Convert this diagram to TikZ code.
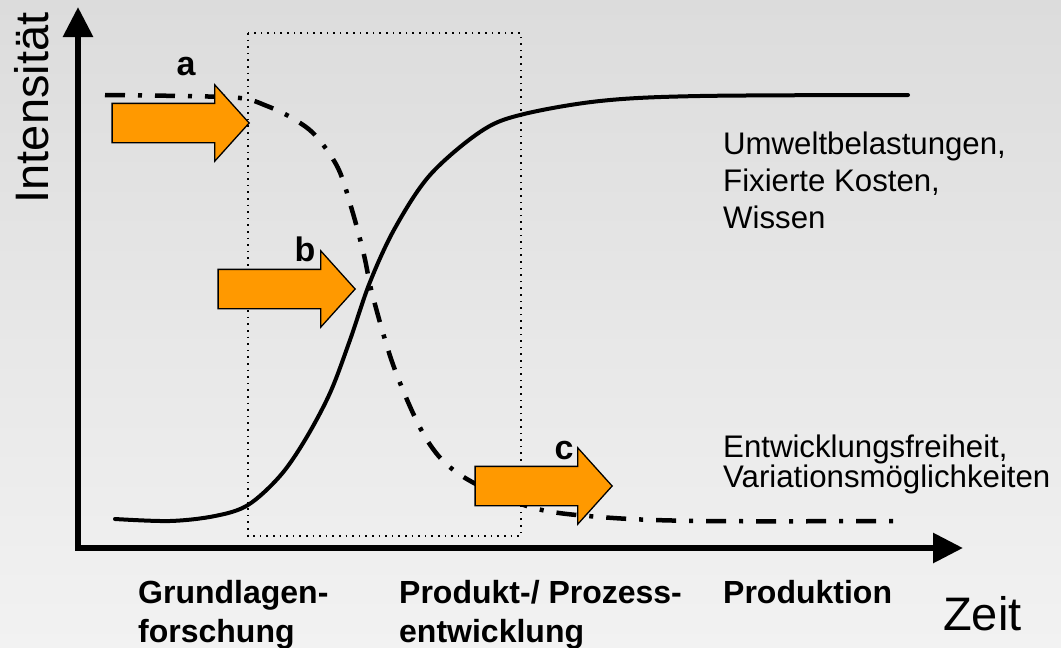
\documentclass[tikz,border=0pt]{standalone}
\usepackage{fontspec}
\setmainfont{Liberation Sans}
\usetikzlibrary{arrows.meta,shapes.arrows}
\definecolor{ink}{HTML}{000000}
\definecolor{pushfill}{HTML}{FF9900}
\definecolor{bgtop}{HTML}{DCDCDC}
\definecolor{bgbot}{HTML}{F2F2F2}
\tikzset{
  axis/.style={line width=6pt, line join=miter, draw=ink,
              {Triangle[length=30pt,width=29pt]}-{Triangle[length=30pt,width=29pt]}},
  rising/.style={line width=4pt, draw=ink, line cap=round},
  falling/.style={line width=4.5pt, draw=ink, dash pattern=on 20pt off 13pt on 4pt off 13pt},
  phase/.style={line width=1.6pt, draw=ink, dash pattern=on 1.6pt off 5pt},
  push/.style={single arrow, draw=ink, fill=pushfill, line width=1.3pt,
              inner sep=0pt, inner ysep=19pt, minimum height=137pt,
              single arrow head extend=18.5pt, single arrow tip angle=96, anchor=tip},
  tag/.style={font=\fontsize{34}{40}\selectfont\bfseries, inner sep=0pt, anchor=base},
  phasetxt/.style={font=\fontsize{32}{39}\selectfont\bfseries, align=left,
              inner sep=0pt, anchor=base west},
  curvetxt/.style={font=\fontsize{31.2}{37}\selectfont, align=left,
              inner sep=0pt, anchor=base west},
  axtxt/.style={font=\fontsize{47}{50}\selectfont, inner sep=0pt},
}

\begin{document}
\begin{tikzpicture}[x=1pt, y=-1pt]

% --- background ---------------------------------------------------------
\fill[top color=bgtop, bottom color=bgbot] (0,0) rectangle (1061,648);
\useasboundingbox (0,0) rectangle (1061,648);

% --- axes ---------------------------------------------------------------
\coordinate (ytip) at (78,7);
\coordinate (xtip) at (963,548);
\draw[axis] (ytip) |- (xtip);
\node[axtxt, rotate=90, anchor=base] (ylab) at (48,108) {Intensität};
\node[axtxt, anchor=base west] (xlab) at (943,630) {Zeit};

% --- development phase --------------------------------------------------
\draw[phase] (248,33) rectangle (521,536);

% --- curves -------------------------------------------------------------
\draw[rising] plot[smooth, tension=0.55] coordinates {
  (115,519) (170,521) (215,516) (248,505) (280,476) (305,440) (330,393)
  (350,340) (370,282) (395,228) (430,175) (480,132) (520,115) (600,101)
  (700,96) (908,95)};
\draw[falling] plot[smooth, tension=0.55] coordinates {
  (105,95) (180,96) (240,98) (267,106) (292,118) (315,135) (338,168)
  (352,210) (364,255) (373,297) (395,370) (427,440) (462,476) (530,507)
  (600,517) (700,521) (900,521)};

% --- pushes a, b, c -----------------------------------------------------
\node[push] (pa) at (250,123) {};
\node[tag] (la) at (186,75) {a};
\node[push] (pb) at (356,289) {};
\node[tag] (lb) at (305,261) {b};
\node[push] (pc) at (613,486) {};
\node[tag] (lc) at (564,459) {c};

% --- curve labels (anchored on the last line) ---------------------------
\node[curvetxt] (upper) at (723,228)
  {Umweltbelastungen,\\Fixierte Kosten,\\Wissen};
\node[curvetxt, font=\fontsize{31.2}{30}\selectfont] (lower) at (723,487)
  {Entwicklungsfreiheit,\\Variationsmöglichkeiten};

% --- phases -------------------------------------------------------------
\node[phasetxt] (grund) at (138,642) {Grundlagen-\\forschung};
\node[phasetxt] (entw) at (399,642) {Produkt-/ Prozess-\\entwicklung};
\node[phasetxt] (prod) at (723,603) {Produktion};
\end{tikzpicture}
\end{document}
